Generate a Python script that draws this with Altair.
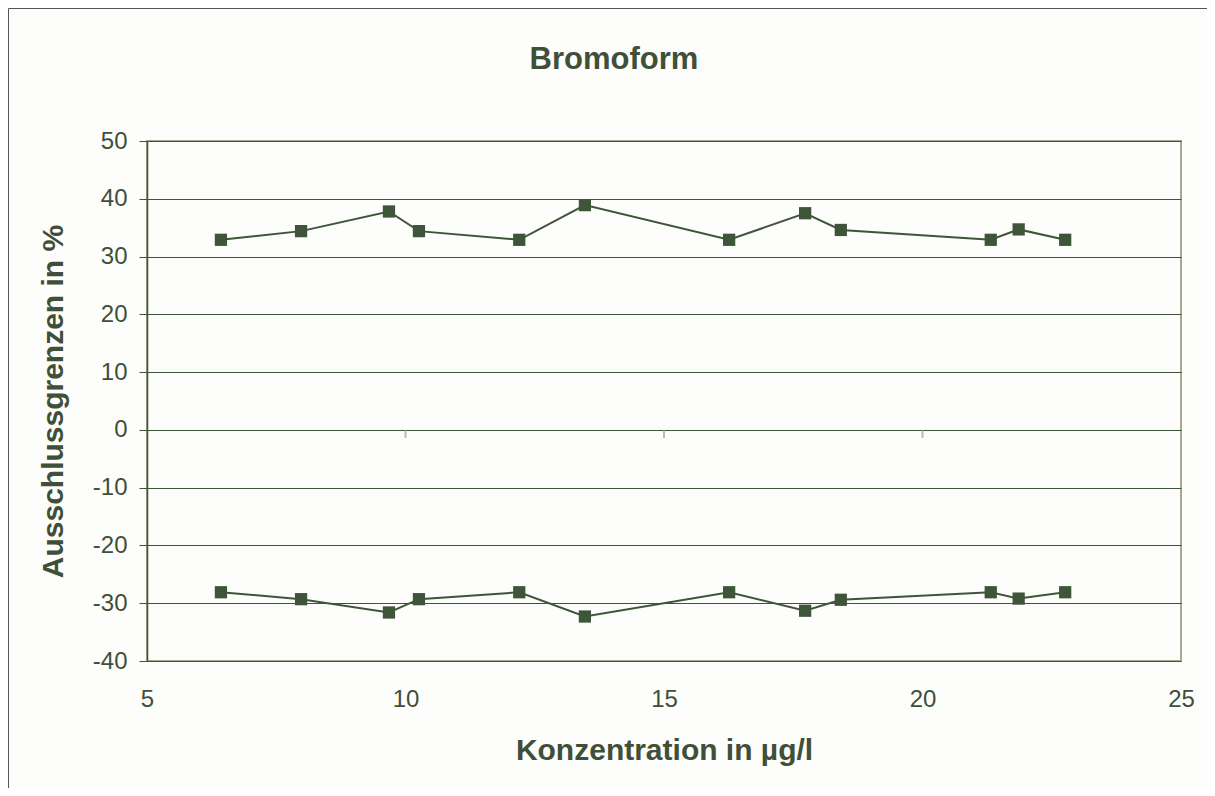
import altair as alt
import pandas as pd

conc = [6.43, 7.98, 9.68, 10.26, 12.2, 13.47, 16.26, 17.73, 18.42, 21.32, 21.86, 22.76]
upper = [32.9, 34.4, 37.8, 34.4, 32.9, 38.9, 32.9, 37.5, 34.6, 32.9, 34.7, 32.9]
lower = [-28.1, -29.3, -31.6, -29.3, -28.1, -32.3, -28.1, -31.3, -29.4, -28.1, -29.2, -28.1]
zero_ticks = [10, 15, 20]

GREEN = "#3F5539"
TEXT = "#3F4F38"
FONT = "Liberation Sans"

df = pd.DataFrame(
    {"x": conc + conc, "y": upper + lower, "s": ["upper"] * len(conc) + ["lower"] * len(conc)}
)
ticks_df = pd.DataFrame({"x": zero_ticks, "y": [0] * len(zero_ticks)})
one = pd.DataFrame({"a": [0]})

xs = alt.Scale(domain=[5, 25], nice=False, zero=False)
ys = alt.Scale(domain=[-40, 50], nice=False)

minus_expr = "datum.value < 0 ? '-' + abs(datum.value) : '' + datum.value"

lines = alt.Chart(df).mark_line(
    color=GREEN,
    strokeWidth=2,
    point=alt.OverlayMarkDef(shape="square", size=150, filled=True, color=GREEN, opacity=1),
).encode(
    x=alt.X(
        "x:Q",
        scale=xs,
        title="Konzentration in µg/l",
        axis=alt.Axis(
            values=[5, 10, 15, 20, 25],
            domain=False,
            ticks=False,
            grid=False,
            labelFlush=False,
            labelPadding=26,
            titlePadding=24,
        ),
    ),
    y=alt.Y(
        "y:Q",
        scale=ys,
        title="Ausschlussgrenzen in %",
        axis=alt.Axis(
            values=list(range(-40, 51, 10)),
            labelExpr=minus_expr,
            labelFlush=False,
            domain=True,
            domainColor=GREEN,
            domainWidth=1.5,
            ticks=True,
            tickSize=8,
            tickColor=GREEN,
            labelPadding=12,
            titlePadding=24,
            grid=True,
            gridColor=GREEN,
            gridWidth=1,
        ),
    ),
    detail="s:N",
)

zt = alt.Chart(ticks_df).mark_tick(
    orient="vertical", size=8, yOffset=4, color="#9AA090", thickness=2
).encode(x=alt.X("x:Q", scale=xs), y=alt.Y("y:Q", scale=ys))

frame_left = alt.Chart(one).mark_rule(color="#555555", strokeWidth=1).encode(
    x=alt.value(-138.5), y=alt.value(-132.5), y2=alt.value(700)
)
frame_top = alt.Chart(one).mark_rule(color="#555555", strokeWidth=1).encode(
    x=alt.value(-138.5), x2=alt.value(1100), y=alt.value(-132.5)
)

title = alt.Chart(one).mark_text(
    text="Bromoform", font=FONT, fontSize=31, fontWeight="bold", color=TEXT,
    align="center", baseline="alphabetic",
).encode(x=alt.value(467), y=alt.value(-72))

chart = (
    alt.layer(frame_left, frame_top, lines, zt, title)
    .properties(
        width=1034,
        height=520,
        padding={"left": 139, "top": 133, "right": 26, "bottom": 127},
        autosize=alt.AutoSizeParams(type="none"),
        background="#FDFDFB",
    )
    .configure_view(stroke="#A8A890", strokeWidth=2, fill="#FDFDFB")
    .configure_axis(
        labelFont=FONT,
        labelFontSize=24,
        labelColor=TEXT,
        titleFont=FONT,
        titleFontSize=30,
        titleFontWeight="bold",
        titleColor=TEXT,
    )
)

chart.save("out.html", embed_options={"renderer": "svg", "actions": False})
